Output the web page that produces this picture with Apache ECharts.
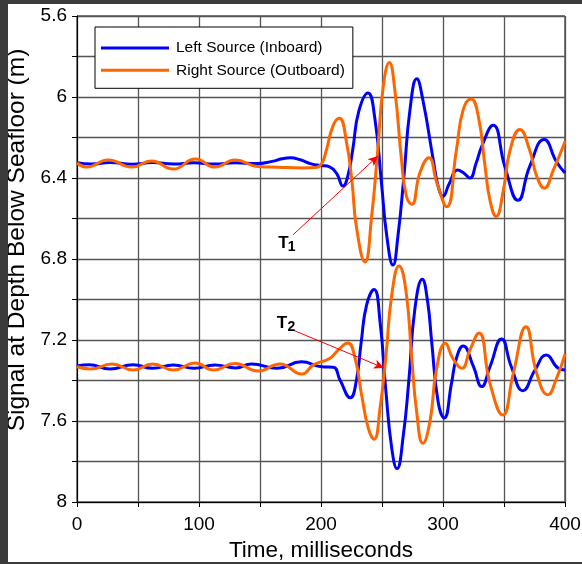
<!DOCTYPE html>
<html><head><meta charset="utf-8">
<script src="https://cdn.jsdelivr.net/npm/echarts@6/dist/echarts.min.js"></script>
<style>
html,body{margin:0;padding:0;background:#3b3b3b;width:582px;height:564px;overflow:hidden}
#c{position:absolute;left:8px;top:4px;width:574px;height:558px;background:#fff}
</style></head><body><div id="c"></div>
<script>
// ---- data (time in ms, signal depth in m) ----
const upperBlueT = [0,12,27,45,62,79,96,112,130,147,160,168,175,183,192,200,207,213,218,222,226,231,238.5,244,249.5,254,259,263,268,273,278.5,283.5,292,296,300,305,312,317,322,327,332,341,351,361.5,371,383,393,400];
const upperBlueV = [6.324,6.331,6.323,6.332,6.324,6.331,6.325,6.331,6.325,6.329,6.318,6.305,6.300,6.310,6.330,6.338,6.345,6.380,6.440,6.390,6.260,6.070,5.980,6.100,6.420,6.690,6.830,6.690,6.390,6.060,5.910,6.015,6.310,6.440,6.490,6.430,6.360,6.375,6.400,6.330,6.240,6.140,6.350,6.510,6.344,6.210,6.320,6.375];

const upperOrangeT = [0,8,25.5,45,61,79,97,113,129.5,148,165,185,196,200.5,204.5,210,215,221,225.5,229,236,241.5,246.5,251,256,260.5,266,270,274.5,281,288.5,295,303,311,316.5,323,329,334.5,338.5,343.5,349.5,355,363,371,377,383,390.5,400];
const upperOrangeV = [6.326,6.346,6.311,6.346,6.316,6.356,6.306,6.346,6.311,6.343,6.347,6.350,6.348,6.330,6.260,6.140,6.105,6.227,6.425,6.640,6.815,6.590,6.262,5.949,5.830,5.965,6.311,6.490,6.530,6.375,6.300,6.425,6.542,6.262,6.064,6.010,6.097,6.344,6.510,6.590,6.460,6.262,6.160,6.262,6.394,6.450,6.360,6.220];

const lowerBlueT = [0,10,27,46,62,79,96,113,130,143,164,184,200.5,210,215.6,224,229,233,237.4,243.5,248.4,253,258,262.3,267.5,272,277,283,287.4,290.7,296,301,307,311,316.5,325,331.7,338.5,348,356,365.5,375.4,384.7,394.5,400];
const lowerBlueV = [7.328,7.322,7.343,7.322,7.340,7.323,7.340,7.323,7.338,7.318,7.340,7.308,7.332,7.334,7.398,7.485,7.400,7.208,7.027,6.950,7.110,7.439,7.735,7.835,7.669,7.400,7.044,6.900,7.011,7.208,7.505,7.585,7.413,7.290,7.230,7.332,7.430,7.332,7.195,7.332,7.450,7.348,7.274,7.340,7.348];

const lowerOrangeT = [0,11,28.7,46,62,79,96.7,112,129.5,148.4,166.4,184.4,193.7,207.4,214.2,222,227.9,233.3,238.8,243.5,248.4,253.3,258,264,269.7,274.3,278.4,283.5,289.3,294.8,302,308,315.5,322,329.5,338.5,349,357.6,368,376.8,386,393,400];
const lowerOrangeV = [7.332,7.343,7.319,7.348,7.319,7.348,7.314,7.348,7.316,7.353,7.318,7.368,7.323,7.290,7.249,7.215,7.290,7.472,7.636,7.690,7.537,7.274,6.978,6.835,6.961,7.284,7.554,7.710,7.603,7.340,7.216,7.290,7.340,7.250,7.165,7.414,7.570,7.365,7.135,7.365,7.470,7.390,7.270];

const seriesNames = ['Left Source (Inboard)', 'Right Source (Outboard)'];
const xTickLabels = [0, 100, 200, 300, 400];
const yTickLabels = [5.6, 6, 6.4, 6.8, 7.2, 7.6, 8];

// annotation anchors (data coords)
const arrowT1 = [[177, 6.681], [246.7, 6.291]];
const arrowT2 = [[177, 7.151], [251.6, 7.338]];
const labelT1 = [169.3, 6.721];
const labelT2 = [168.0, 7.116];

const zip = (t, v) => t.map((x, i) => [x, v[i]]);
const FONT = "'Liberation Sans', Arial, sans-serif";
const BLUE = '#0000ff', ORANGE = '#ff6600';

const chart = echarts.init(document.getElementById('c'), null, {renderer: 'canvas'});

function lineSeries(name, data, color, extra) {
  return Object.assign({
    type: 'line', name: name, data: data, smooth: 0.5, symbol: 'none', showSymbol: false,
    lineStyle: {color: color, width: 3}, itemStyle: {color: color},
    silent: true, animation: false, z: 3
  }, extra || {});
}

const arrowLine = {
  silent: true, animation: false, symbol: ['none', 'arrow'], symbolSize: [7, 10],
  label: {show: false}, lineStyle: {color: '#ff0000', width: 1, type: 'solid'},
  emphasis: {disabled: true},
  data: [
    [{coord: arrowT1[0]}, {coord: arrowT1[1]}],
    [{coord: arrowT2[0]}, {coord: arrowT2[1]}]
  ]
};

chart.setOption({
  animation: false,
  backgroundColor: '#fff',
  textStyle: {fontFamily: FONT},
  grid: {left: 69, right: 17, top: 12, bottom: 60, containLabel: false, outerBoundsMode: 'none',
         show: true, borderColor: '#000', borderWidth: 1, backgroundColor: '#fff'},
  legend: {
    show: true, orient: 'vertical', left: 87, top: 23,
    data: seriesNames.map(n => ({name: n, icon: 'rect'})),
    itemWidth: 68, itemHeight: 3, itemGap: 6.3,
    padding: [13, 8, 10, 6],
    backgroundColor: '#fff', borderColor: '#000', borderWidth: 1,
    textStyle: {fontFamily: FONT, fontSize: 15.5, lineHeight: 16, color: '#000', padding: [0, 0, 0, 2]},
    selectedMode: false
  },
  xAxis: {
    type: 'value', min: 0, max: 400, interval: 50,
    name: 'Time, milliseconds', nameLocation: 'middle', nameGap: 35,
    nameTextStyle: {fontFamily: FONT, fontSize: 22.5, color: '#000'},
    axisLine: {lineStyle: {color: '#000', width: 1}},
    axisTick: {show: true, length: 5, lineStyle: {color: '#000'}},
    axisLabel: {
      fontFamily: FONT, fontSize: 19, color: '#000', margin: 13,
      formatter: v => xTickLabels.indexOf(Math.round(v)) >= 0 ? String(Math.round(v)) : ''
    },
    splitLine: {show: true, lineStyle: {color: '#555', width: 1.3}}
  },
  yAxis: {
    type: 'value', min: 5.6, max: 8, interval: 0.2, inverse: true,
    name: 'Signal at Depth Below Seafloor (m)', nameLocation: 'middle', nameGap: 41, nameRotate: 90,
    nameTextStyle: {fontFamily: FONT, fontSize: 24.5, color: '#000', padding: [0, 0, 0, 38]},
    axisLine: {lineStyle: {color: '#000', width: 1}},
    axisTick: {show: true, length: 5, lineStyle: {color: '#000'}},
    axisLabel: {
      fontFamily: FONT, fontSize: 19, color: '#000', margin: 10,
      formatter: v => {
        const r = Math.round(v * 10) / 10;
        return yTickLabels.some(y => Math.abs(y - r) < 1e-6) ? String(r) : '';
      }
    },
    splitLine: {show: true, lineStyle: {color: '#555', width: 1.3}}
  },
  series: [
    lineSeries(seriesNames[0], zip(upperBlueT, upperBlueV), BLUE, {markLine: arrowLine}),
    lineSeries(seriesNames[0], zip(lowerBlueT, lowerBlueV), BLUE),
    lineSeries(seriesNames[1], zip(upperOrangeT, upperOrangeV), ORANGE),
    lineSeries(seriesNames[1], zip(lowerOrangeT, lowerOrangeV), ORANGE)
  ]
});

function tLabel(anchor, sub, dx, dy) {
  const p = chart.convertToPixel({gridIndex: 0}, anchor);
  return [
    {type: 'text', x: p[0], y: p[1], silent: true, z: 10,
     style: {text: 'T', fontFamily: FONT, fontWeight: 'bold', fontSize: 17, fill: '#000', align: 'center', verticalAlign: 'middle'}},
    {type: 'text', x: p[0] + dx, y: p[1] + dy, silent: true, z: 10,
     style: {text: sub, fontFamily: FONT, fontWeight: 'bold', fontSize: 14, fill: '#000', align: 'center', verticalAlign: 'middle'}}
  ];
}
chart.setOption({graphic: [].concat(tLabel(labelT1, '1', 8, 4.5), tLabel(labelT2, '2', 9.5, 4.5))});
</script></body></html>
